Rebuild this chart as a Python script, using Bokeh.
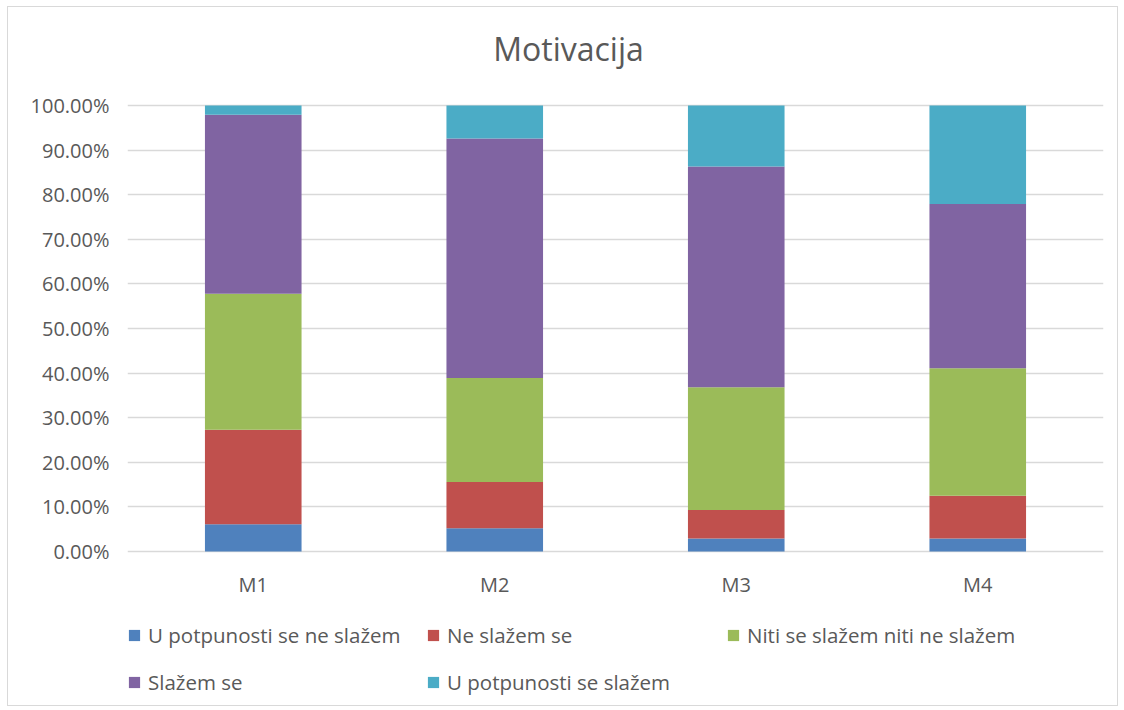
from bokeh.plotting import figure
from bokeh.models import (ColumnDataSource, FactorRange, Range1d, NumeralTickFormatter, Legend,
                          LegendItem, FixedTicker, CategoricalAxis, Label)
from bokeh.embed import file_html
from bokeh.resources import INLINE

categories = ["M1", "M2", "M3", "M4"]
series_names = ["U potpunosti se ne slažem", "Ne slažem se", "Niti se slažem niti ne slažem",
                "Slažem se", "U potpunosti se slažem"]
u_potpunosti_ne = [0.061, 0.052, 0.029, 0.029]
ne_slazem = [0.212, 0.104, 0.064, 0.096]
niti_niti = [0.305, 0.233, 0.275, 0.286]
slazem = [0.401, 0.537, 0.495, 0.368]
u_potpunosti_da = [0.021, 0.074, 0.137, 0.221]
y_ticks = [0.0, 0.1, 0.2, 0.3, 0.4, 0.5, 0.6, 0.7, 0.8, 0.9, 1.0]
colors = ["#4F81BD", "#C0504D", "#9BBB59", "#8064A2", "#4BACC6"]
title_text = "Motivacija"

keys = ["s0", "s1", "s2", "s3", "s4"]
src = ColumnDataSource(dict(cat=categories, s0=u_potpunosti_ne, s1=ne_slazem, s2=niti_niti,
                            s3=slazem, s4=u_potpunosti_da))

FONT = "Open Sans"
TXT = "#595959"

W, H = 1109, 698
TOP_PX, LEFT, RIGHT = 98, 119, 14
PX_PER_UNIT = 446.0
pad = 0.0207
y_max = 1.0 + TOP_PX / PX_PER_UNIT
y_min = y_max - H / PX_PER_UNIT

p = figure(x_range=FactorRange(factors=categories, range_padding=pad,
                               range_padding_units="absolute"),
           y_range=Range1d(y_min, y_max),
           width=W, height=H, output_backend="svg", toolbar_location=None,
           x_axis_location=None,
           min_border_left=LEFT, min_border_right=RIGHT, min_border_top=0, min_border_bottom=0)
p.margin = (7, 0, 0, 8)
p.styles = {"outline": "1px solid #D9D9D9"}
p.outline_line_color = None

renderers = p.vbar_stack(keys, x="cat", width=0.4, color=colors, source=src, line_color=None)

# title placed as a label above the plotting area
title_x = (568 - 127) / 241.5 - pad
title_y = 1.0 + 57 / PX_PER_UNIT
p.add_layout(Label(x=title_x, y=title_y, text=title_text, text_align="center",
                   text_baseline="alphabetic", text_font=FONT, text_font_size="32px",
                   text_color=TXT))

xaxis = CategoricalAxis(fixed_location=0)
p.add_layout(xaxis, "below")

p.yaxis.ticker = FixedTicker(ticks=y_ticks)
p.yaxis.formatter = NumeralTickFormatter(format="0.00%")
for ax in (xaxis, p.yaxis[0]):
    ax.axis_line_color = None
    ax.major_tick_line_color = None
    ax.minor_tick_line_color = None
    ax.major_label_text_font = FONT
    ax.major_label_text_font_size = "20px"
    ax.major_label_text_color = TXT
p.yaxis.major_label_standoff = 12
xaxis.major_label_standoff = 13
p.xgrid.grid_line_color = None
p.ygrid.grid_line_color = "#D9D9D9"
p.ygrid.grid_line_width = 1.3

positions = [(0, 56), (299, 56), (599, 56), (0, 9), (299, 9)]
for r, name, loc in zip(renderers, series_names, positions):
    lg = Legend(items=[LegendItem(label=name, renderers=[r])], location=loc,
                glyph_width=14, glyph_height=14, label_height=14, label_standoff=7,
                padding=0, margin=0, border_line_color=None, background_fill_alpha=0,
                label_text_font=FONT, label_text_font_size="20.5px", label_text_color=TXT)
    p.add_layout(lg, "center")

open("out.html", "w").write(file_html(p, INLINE))
